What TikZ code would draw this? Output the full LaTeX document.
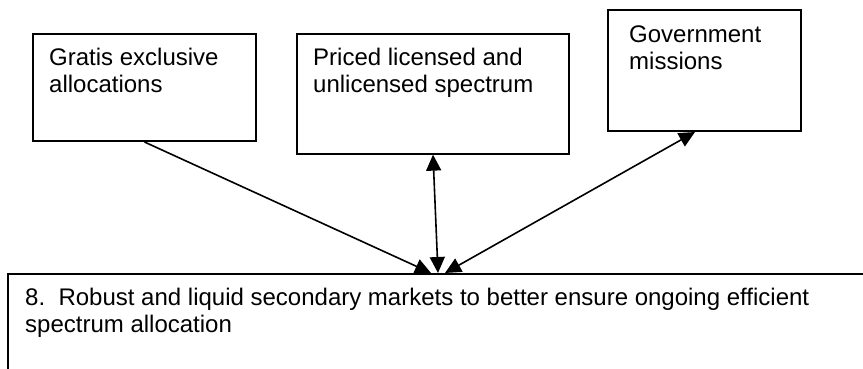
\documentclass[tikz,border=0pt]{standalone}
\usepackage{fontspec}
\setmainfont{Liberation Sans}
\usetikzlibrary{arrows.meta,calc}
\tikzset{
  boxnode/.style={draw, line width=2pt, inner sep=0pt},
  thinbox/.style={draw, line width=1.3pt, inner sep=0pt},
  txt/.style={anchor=north west, inner sep=0pt, align=left, font=\fontsize{24}{27}\selectfont},
  conn/.style={line width=1.6pt, -{Triangle[length=16pt,width=15pt]}},
  bconn/.style={line width=1.6pt, {Triangle[length=16pt,width=15pt]}-{Triangle[length=16pt,width=15pt]}}
}
\begin{document}
\begin{tikzpicture}[x=1pt,y=-1pt]
\useasboundingbox (0,0) rectangle (863,369);
\clip (0,0) rectangle (863,369);
\node[boxnode, minimum width=223pt, minimum height=107pt] (g) at (144.5,87.5) {};
\node[thinbox, minimum width=272pt, minimum height=120pt] (p) at (433,94) {};
\node[boxnode, minimum width=193pt, minimum height=121pt] (v) at (704.5,70.5) {};
\node[boxnode, minimum width=870pt, minimum height=120pt] (m) at (443,334) {};
\node[txt] (gt) at (49,48) {Gratis exclusive\\allocations};
\node[txt] (pt) at (313,48) {Priced licensed and\\unlicensed spectrum};
\node[txt] (vt) at (629,26) {Government\\missions};
\node[txt] (mt) at (25,288) {8.\ \ Robust and liquid secondary markets to better ensure ongoing efficient\\spectrum allocation};
\coordinate (t1) at ($(m.north west)+(424,0)$);
\coordinate (t2) at ($(m.north west)+(431,0)$);
\coordinate (t3) at ($(m.north west)+(438,0)$);
\coordinate (vs) at ($(v.south)+(-9.5,0)$);
\draw[conn] (g.south) -- (t1);
\draw[bconn] (p.south) -- (t2);
\draw[bconn] (vs) -- (t3);
\end{tikzpicture}
\end{document}
